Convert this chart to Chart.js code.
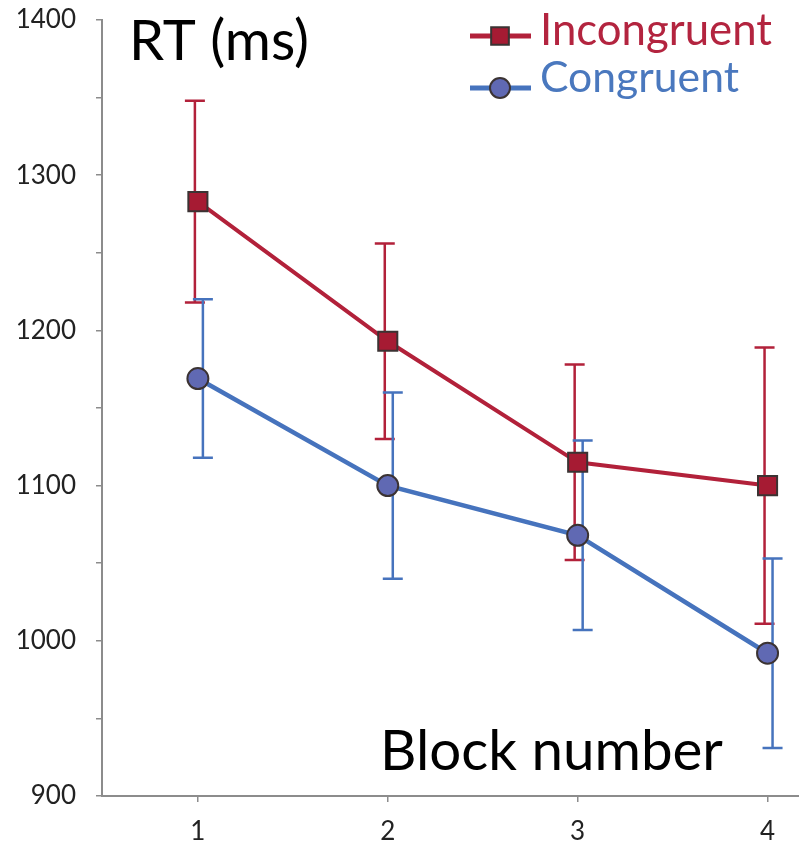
<!DOCTYPE html>
<html>
<head>
<meta charset="utf-8">
<script src="https://cdn.jsdelivr.net/npm/chart.js@4.4.1/dist/chart.umd.min.js"></script>
<style>
html,body{margin:0;padding:0;background:#fff;overflow:hidden;}
canvas{display:block;}
</style>
</head>
<body>
<canvas id="c" width="799" height="844"></canvas>
<script>
// ---- data ----
const blocks = [1, 2, 3, 4];
const incongruent = [1283, 1193, 1115, 1100];
const incongruentErr = [65, 63, 63, 89];
const congruent = [1169, 1100, 1068, 992];
const congruentErr = [51, 60, 61, 61];
const yTicks = [900, 1000, 1100, 1200, 1300, 1400];
const seriesNames = ['Incongruent', 'Congruent'];
const yTitle = 'RT (ms)';
const xTitle = 'Block number';

// ---- styles ----
const RED = '#B2213A', RED_FILL = '#A61B33', RED_TEXT = '#B3243F';
const BLUE = '#4673BD', BLUE_FILL = '#6069B3', BLUE_TEXT = '#4A78BE';
const MARK_BORDER = '#3b3333';
const FONT = 'Lato, "Open Sans", sans-serif';

function fitFont(ctx, text, width) {
  ctx.font = '100px ' + FONT;
  const w = ctx.measureText(text).width;
  return 100 * width / w;
}

const errorBars = {
  id: 'errorBars',
  beforeDatasetsDraw(chart) {
    const ctx = chart.ctx;
    const xs = chart.scales.x, ys = chart.scales.y;
    const sets = [
      {vals: incongruent, err: incongruentErr, color: RED, dx: -3},
      {vals: congruent, err: congruentErr, color: BLUE, dx: 5}
    ];
    ctx.save();
    sets.forEach(s => {
      ctx.strokeStyle = s.color;
      ctx.lineWidth = 2.5;
      s.vals.forEach((v, i) => {
        const x = xs.getPixelForValue(blocks[i]) + s.dx;
        const yt = ys.getPixelForValue(v + s.err[i]);
        const yb = ys.getPixelForValue(v - s.err[i]);
        ctx.beginPath();
        ctx.moveTo(x, yt); ctx.lineTo(x, yb);
        ctx.moveTo(x - 10, yt); ctx.lineTo(x + 10, yt);
        ctx.moveTo(x - 10, yb); ctx.lineTo(x + 10, yb);
        ctx.stroke();
      });
    });
    ctx.restore();
  }
};

const annotations = {
  id: 'annotations',
  afterDraw(chart) {
    const ctx = chart.ctx;
    ctx.save();
    // extend x axis line to the right edge of the canvas, as in the reference
    const ca = chart.chartArea;
    ctx.strokeStyle = '#8c8c8c';
    ctx.lineWidth = 2;
    ctx.beginPath();
    ctx.moveTo(ca.right, ca.bottom);
    ctx.lineTo(chart.width, ca.bottom);
    ctx.stroke();

    ctx.textBaseline = 'alphabetic';
    ctx.textAlign = 'left';
    // titles
    let fs = fitFont(ctx, yTitle, 180);
    ctx.font = fs + 'px ' + FONT;
    ctx.fillStyle = '#000';
    ctx.fillText(yTitle, 129, 60);
    fs = fitFont(ctx, xTitle, 343);
    ctx.font = fs + 'px ' + FONT;
    ctx.fillText(xTitle, 380, 770);
    // legend
    const items = [
      {name: seriesNames[0], color: RED, fill: RED_FILL, text: RED_TEXT, style: 'rect', y: 36, base: 45},
      {name: seriesNames[1], color: BLUE, fill: BLUE_FILL, text: BLUE_TEXT, style: 'circle', y: 88, base: 92}
    ];
    items.forEach(it => {
      ctx.strokeStyle = it.color;
      ctx.lineWidth = 5;
      ctx.beginPath();
      ctx.moveTo(470, it.y); ctx.lineTo(531, it.y);
      ctx.stroke();
      ctx.fillStyle = it.fill;
      ctx.strokeStyle = MARK_BORDER;
      ctx.lineWidth = 2;
      Chart.helpers.drawPoint(ctx, {pointStyle: it.style, radius: it.style === 'rect' ? 12.5 : 10, borderWidth: 2}, 500, it.y);
      const f = fitFont(ctx, it.name, it.style === 'rect' ? 232 : 199);
      ctx.font = f + 'px ' + FONT;
      ctx.fillStyle = it.text;
      ctx.fillText(it.name, 540, it.base);
    });
    ctx.restore();
  }
};

new Chart(document.getElementById('c'), {
  type: 'line',
  data: {
    datasets: [
      {
        label: seriesNames[0],
        data: blocks.map((b, i) => ({x: b, y: incongruent[i]})),
        borderColor: RED, borderWidth: 4,
        pointStyle: 'rect', pointRadius: 13.5,
        pointBackgroundColor: RED_FILL, pointBorderColor: MARK_BORDER, pointBorderWidth: 2,
        tension: 0
      },
      {
        label: seriesNames[1],
        data: blocks.map((b, i) => ({x: b, y: congruent[i]})),
        borderColor: BLUE, borderWidth: 4.5,
        pointStyle: 'circle', pointRadius: 10.5,
        pointBackgroundColor: BLUE_FILL, pointBorderColor: MARK_BORDER, pointBorderWidth: 2,
        tension: 0
      }
    ]
  },
  options: {
    responsive: false,
    animation: false,
    devicePixelRatio: 1,
    layout: {padding: {top: 20, right: 0, left: 0, bottom: 0}},
    plugins: {legend: {display: false}, tooltip: {enabled: false}},
    scales: {
      x: {
        type: 'linear',
        min: 0.495,
        max: 4.084,
        afterBuildTicks(scale) { scale.ticks = blocks.map(v => ({value: v})); },
        afterFit(scale) {
          scale.height = 48;
          scale.paddingLeft = 0; scale.paddingRight = 0;
          scale.paddingTop = 0; scale.paddingBottom = 0;
        },
        grid: {drawOnChartArea: false, drawTicks: true, tickLength: 6, color: '#8c8c8c', lineWidth: 1.5},
        border: {color: '#8c8c8c', width: 2},
        ticks: {font: {family: FONT, size: 26}, color: '#222', padding: 14, autoSkip: false, maxRotation: 0,
                callback: v => String(v)}
      },
      y: {
        min: 900,
        max: 1400,
        afterBuildTicks(scale) {
          const t = [];
          for (let i = 0; i < yTicks.length; i++) {
            t.push({value: yTicks[i]});
            if (i < yTicks.length - 1) t.push({value: (yTicks[i] + yTicks[i + 1]) / 2});
          }
          scale.ticks = t;
        },
        afterFit(scale) {
          scale.width = 102;
          scale.paddingLeft = 0; scale.paddingRight = 0;
          scale.paddingTop = 0; scale.paddingBottom = 0;
        },
        grid: {drawOnChartArea: false, drawTicks: true, tickLength: 6, color: '#8c8c8c', lineWidth: 1.5},
        border: {color: '#8c8c8c', width: 2},
        ticks: {font: {family: FONT, size: 26}, color: '#222', padding: 20, autoSkip: false,
                callback: v => (yTicks.includes(v) ? String(v) : '')}
      }
    }
  },
  plugins: [errorBars, annotations]
});
</script>
</body>
</html>
